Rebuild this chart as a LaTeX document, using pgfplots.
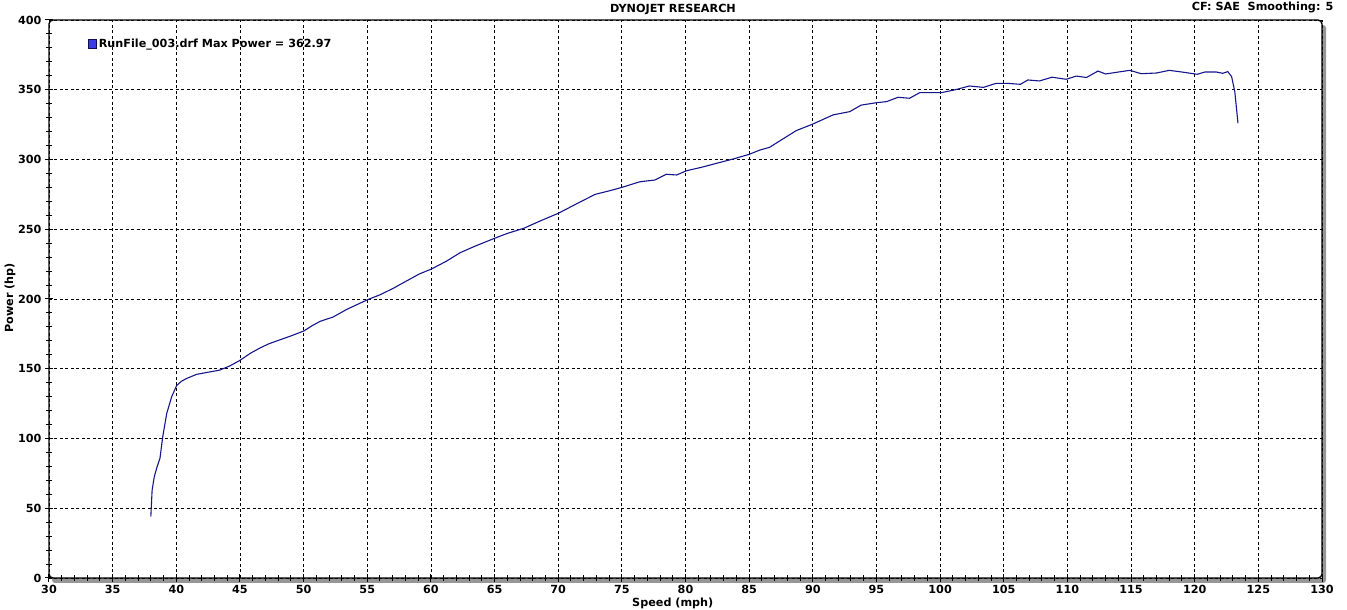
\documentclass[border=0pt]{standalone}
\usepackage{pgfplots}
\pgfplotsset{compat=1.18}
\usepackage{fontspec}
\setmainfont{DejaVu Sans}

\definecolor{runblue}{RGB}{22,22,140}
\definecolor{shadowgray}{RGB}{150,150,150}
\definecolor{iconblue}{RGB}{60,60,225}

\newcommand{\dynofont}{\bfseries\fontsize{11.2}{13}\selectfont}

\pgfplotstableread{
speed power
38.00 44.0
38.10 63.0
38.27 72.6
38.50 80.0
38.72 86.0
38.93 101.0
39.25 118.0
39.64 130.0
40.03 138.0
40.40 141.0
40.80 143.0
41.60 146.0
42.50 147.5
43.40 149.0
44.20 152.0
45.00 156.0
45.80 161.0
46.60 165.0
47.30 168.0
48.10 170.6
49.00 173.5
50.00 177.0
50.70 181.0
51.30 184.0
52.30 187.0
53.40 192.6
54.20 196.0
55.10 199.8
56.00 203.0
57.05 207.7
58.00 212.5
59.10 218.0
60.00 221.3
61.20 227.0
62.30 233.2
63.50 238.0
65.00 243.5
66.00 247.0
67.30 250.7
68.60 256.0
70.00 261.4
71.50 268.5
72.90 275.0
74.00 277.5
75.00 280.0
76.40 284.0
77.60 285.3
78.50 289.4
79.30 288.9
80.10 292.0
81.30 294.5
82.45 297.3
83.80 300.5
85.00 303.7
85.85 306.8
86.60 308.7
87.40 313.3
88.70 320.7
90.00 325.4
91.60 332.0
92.90 334.3
93.80 339.0
95.00 340.7
95.80 341.5
96.70 344.6
97.60 343.9
98.40 347.9
100.10 347.9
101.20 350.0
102.30 352.7
103.40 351.7
104.40 354.6
105.30 354.6
106.30 353.9
106.90 357.0
107.80 356.3
108.80 359.0
109.90 357.5
110.70 359.8
111.50 358.8
112.40 363.4
113.00 361.3
114.00 362.7
114.90 363.9
115.80 361.5
117.00 362.0
118.00 363.9
119.00 362.7
120.20 361.1
120.80 362.7
121.70 362.7
122.20 361.8
122.60 363.0
122.90 359.4
123.15 348.6
123.40 326.0
}\runfile

\begin{document}
\begin{tikzpicture}[font=\dynofont]
% drop shadow of the plot frame
\fill[shadowgray, rounded corners=3pt] (3pt,-5pt) rectangle (1277pt,553pt);
\begin{axis}[
  at={(0,0)}, anchor=south west,
  scale only axis, width=1273pt, height=558pt,
  xmin=30, xmax=130, ymin=0, ymax=400,
  xtick={30,35,...,130}, ytick={0,50,...,400},
  minor x tick num=4, minor y tick num=4,
  tick pos=left,
  grid=major,
  major grid style={black, line width=0.8pt, dash pattern=on 3pt off 2.5pt},
  axis background/.style={fill=white},
  axis line style={black, line width=1.4pt, rounded corners=4pt},
  tick align=center,
  major tick length=8pt, minor tick length=6pt,
  tick style={black, line width=1pt},
  /pgf/number format/assume math mode=true,
  ticklabel style={font=\dynofont},
  xlabel={Speed (mph)}, ylabel={Power (hp)},
  label style={font=\dynofont},
  xlabel style={at={(axis description cs:0.49,-0.045)}, anchor=center},
  ylabel style={at={(axis description cs:-0.0306,0.502)}, anchor=center},
  legend style={at={(axis description cs:0.0306,0.9695)}, anchor=north west,
    draw=none, fill=none, inner sep=0pt, font=\dynofont},
  legend cell align=left,
  legend image code/.code={\draw[fill=iconblue, draw=runblue!60!black, line width=0.7pt] (0pt,-4.5pt) rectangle (8pt,4.5pt);},
]
\addplot[runblue, line width=1.1pt] table[x=speed, y=power] {\runfile};
\addlegendentry{RunFile\_003.drf Max Power = 362.97}
\end{axis}
\node[anchor=center] at (624pt,569pt) {DYNOJET RESEARCH};
\node[anchor=east] at (1288pt,571pt) {CF: SAE\ \ Smoothing: 5};
\pgfresetboundingbox
\path[use as bounding box] (-49pt,-32pt) rectangle (1298pt,578pt);
\end{tikzpicture}
\end{document}
